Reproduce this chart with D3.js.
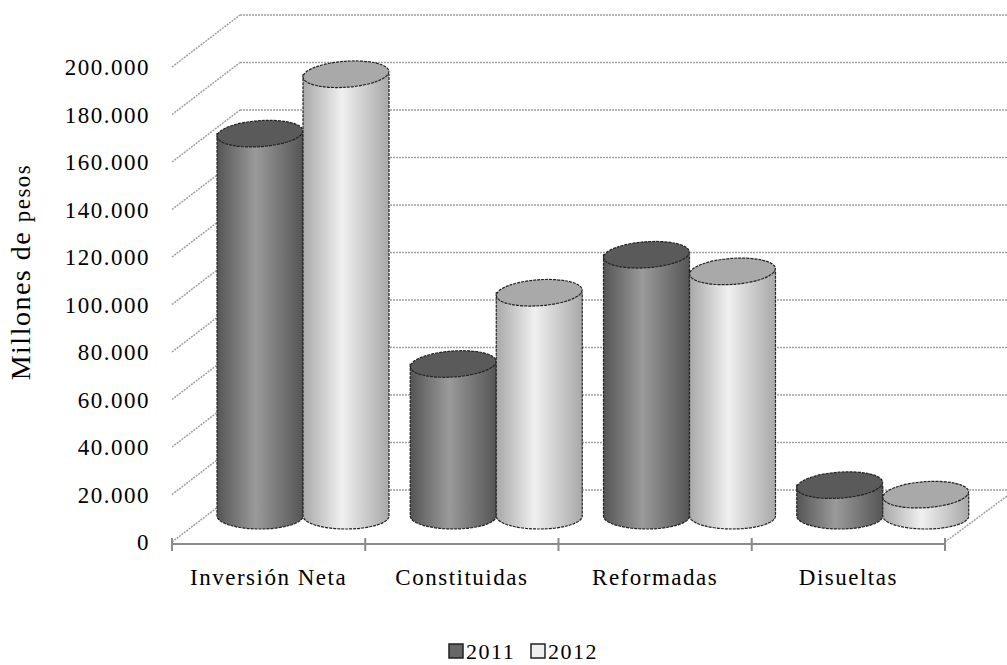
<!DOCTYPE html>
<html><head><meta charset="utf-8">
<script src="https://cdn.jsdelivr.net/npm/d3@7"></script>
<style>body{margin:0;background:#fff}text{font-family:"Liberation Serif","Times New Roman",serif;letter-spacing:1.5px}</style>
</head><body>
<svg id="chart" width="1007" height="665"></svg>
<script>
const categories = ["Inversión Neta", "Constituidas", "Reformadas", "Disueltas"];
const series = ["2011", "2012"];
const values2011 = [161000, 64000, 110000, 13000];
const values2012 = [186000, 94000, 103000, 9000];
const yTicks = [0, 20000, 40000, 60000, 80000, 100000, 120000, 140000, 160000, 180000, 200000];

const svg = d3.select("#chart");
const fmt = d => d3.format(",")(d).replace(/,/g, ".");

// depth offsets (back wall and mid-depth)
const dx = 68, dy = -52;
const y = d3.scaleLinear().domain([0, 200000]).range([542, 67]);
const x = d3.scaleBand().domain(categories).range([172, 945]);

const defs = svg.append("defs");
const grad = (id, a, b) => {
  const g = defs.append("linearGradient").attr("id", id);
  g.append("stop").attr("offset", "0%").attr("stop-color", a);
  g.append("stop").attr("offset", "45%").attr("stop-color", b);
  g.append("stop").attr("offset", "100%").attr("stop-color", a);
};
grad("g2011", "#555", "#9a9a9a");
grad("g2012", "#a8a8a8", "#f0f0f0");

// back wall gridlines and left wall diagonals
const grid = svg.append("g").attr("stroke", "#a0a0a0").attr("stroke-width", 1.5).attr("stroke-dasharray", "2,1");
[...yTicks, 220000].forEach(t => {
  const yy = y(t) + dy;
  grid.append("line").attr("x1", 172 + dx).attr("x2", 1007).attr("y1", yy).attr("y2", yy);
  if (t <= 200000) grid.append("line").attr("x1", 172).attr("y1", y(t)).attr("x2", 172 + dx).attr("y2", yy);
});
grid.append("line").attr("x1", 945).attr("y1", y(0)).attr("x2", 1007).attr("y2", y(0) - 46);

// front floor edge
const ax = svg.append("g").attr("stroke", "#8a8a8a").attr("stroke-width", 2);
ax.append("line").attr("x1", 172).attr("x2", 945).attr("y1", 544).attr("y2", 544);
categories.concat([null]).forEach((c, i) => {
  const xx = 172 + i * x.bandwidth();
  ax.append("line").attr("x1", xx).attr("x2", xx).attr("y1", 538).attr("y2", 551);
});

// y tick labels
svg.append("g").selectAll("text").data(yTicks).join("text")
  .attr("x", 150).attr("y", d => y(d)).attr("dy", "0.35em")
  .attr("text-anchor", "end").attr("font-size", 23).text(fmt);

// x labels
svg.append("g").selectAll("text").data(categories).join("text")
  .attr("x", d => x(d) + x.bandwidth() / 2).attr("y", 585)
  .attr("text-anchor", "middle").attr("font-size", 23).text(d => d);

// y title
const yt = svg.append("text").attr("transform", "translate(30,272) rotate(-90)")
  .attr("text-anchor", "middle").attr("font-size", 28);
yt.append("tspan").text("Millones de ");
yt.append("tspan").attr("font-size", 23).text("pesos");

// cylinders at mid depth
const mx = 34, my = -26, rx = 43, ry = 13;
const bars = svg.append("g");
categories.forEach((c, i) => {
  [[values2011[i], "2011", "#5a5a5a"], [values2012[i], "2012", "#a9a9a9"]].forEach(([v, s, top], j) => {
    const cx = x(c) + mx + 11 + rx + j * 2 * rx;
    const yb = y(0) + my, yt2 = y(v) + my;
    const g = bars.append("g").attr("stroke", "#222").attr("stroke-width", 1.2).attr("stroke-dasharray", "3,1");
    g.append("path")
      .attr("d", `M${cx - rx},${yt2} L${cx - rx},${yb} A${rx},${ry} 0 0 0 ${cx + rx},${yb} L${cx + rx},${yt2} Z`)
      .attr("fill", `url(#g${s})`);
    g.append("ellipse").attr("cx", cx).attr("cy", yt2).attr("rx", rx).attr("ry", ry)
      .attr("fill", top).attr("transform", `rotate(-4 ${cx} ${yt2})`);
  });
});

// legend
const lg = svg.append("g").attr("transform", "translate(449,641)");
series.forEach((s, i) => {
  const gx = i * 82;
  lg.append("rect").attr("x", gx).attr("y", 3).attr("width", 14).attr("height", 14)
    .attr("fill", i ? "#eee" : "#666").attr("stroke", "#222").attr("stroke-width", 1.5);
  lg.append("text").attr("x", gx + 17).attr("y", 18).attr("font-size", 22).text(s);
});
</script>
</body></html>
